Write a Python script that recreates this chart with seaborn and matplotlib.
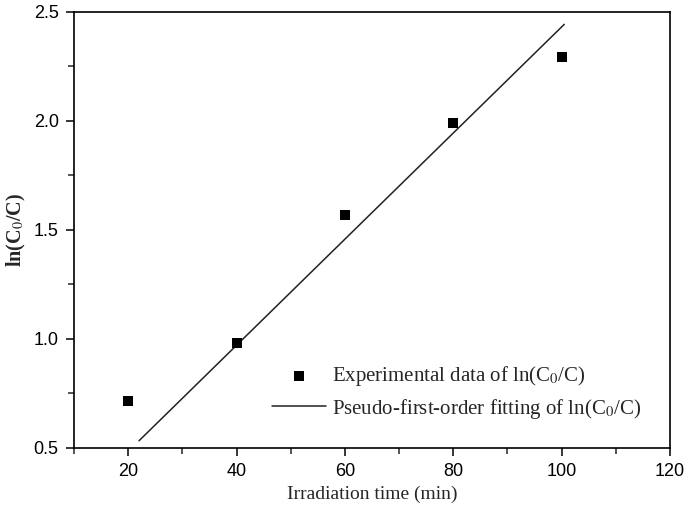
"""
Pseudo-first-order kinetics plot: ln(C0/C) vs irradiation time.
"""
import numpy as np
import pandas as pd
import matplotlib
matplotlib.use("Agg")
import matplotlib.pyplot as plt
from matplotlib.ticker import MultipleLocator
import seaborn as sns

# experimental points
time_min = [20, 40, 60, 80, 100]
ln_c0_c = [0.715, 0.983, 1.568, 1.990, 2.293]

# fitted line end points (as drawn on the original)
fit_time = [22, 100.5]
fit_ln = [0.533, 2.443]

exp_label = r"Experimental data of ln(C$_0$/C)"
fit_label = r"Pseudo-first-order fitting of ln(C$_0$/C)"

sns.set_style("ticks")
plt.rcParams["font.family"] = ["Liberation Sans", "DejaVu Sans"]
plt.rcParams["mathtext.fontset"] = "stix"

fig = plt.figure(figsize=(6.85, 5.17), dpi=100)
ax = fig.add_axes([0.108, 0.1335, 0.870, 0.8435])

df_exp = pd.DataFrame({"t": time_min, "y": ln_c0_c})
df_fit = pd.DataFrame({"t": fit_time, "y": fit_ln})

sns.scatterplot(data=df_exp, x="t", y="y", marker="s", s=55, color="black",
                edgecolor="black", linewidth=0, label=exp_label, ax=ax, zorder=3)
sns.lineplot(data=df_fit, x="t", y="y", color="#222222", linewidth=1.1,
             label=fit_label, ax=ax)

ax.set_xlim(10, 120)
ax.set_ylim(0.5, 2.5)
ax.xaxis.set_major_locator(MultipleLocator(20))
ax.xaxis.set_minor_locator(MultipleLocator(10))
ax.yaxis.set_major_locator(MultipleLocator(0.5))
ax.yaxis.set_minor_locator(MultipleLocator(0.25))
ax.set_xticks([20, 40, 60, 80, 100, 120])
ax.tick_params(which="major", direction="out", length=6, width=1.1,
               labelsize=13, colors="black", top=False, right=False, pad=5)
ax.tick_params(which="minor", direction="out", length=4, width=1.1,
               top=False, right=False)

for side in ["top", "right", "bottom", "left"]:
    ax.spines[side].set_visible(True)
    ax.spines[side].set_color("black")
    ax.spines[side].set_linewidth(1.2)

ax.set_xlabel("Irradiation time (min)", fontfamily="Liberation Serif",
              fontsize=14, labelpad=4)
ax.set_ylabel(r"ln(C$_0$/C)", fontfamily="Liberation Serif", fontsize=14.5,
              fontweight="bold")
ax.yaxis.set_label_coords(-0.077, 0.5)

leg = ax.legend(loc="lower left", bbox_to_anchor=(0.30, 0.02), frameon=False,
                prop={"family": "Liberation Serif", "size": 15},
                handlelength=2.6, handletextpad=0.3, labelspacing=0.4,
                markerscale=1.0)

fig.savefig("out.png", dpi=100)
